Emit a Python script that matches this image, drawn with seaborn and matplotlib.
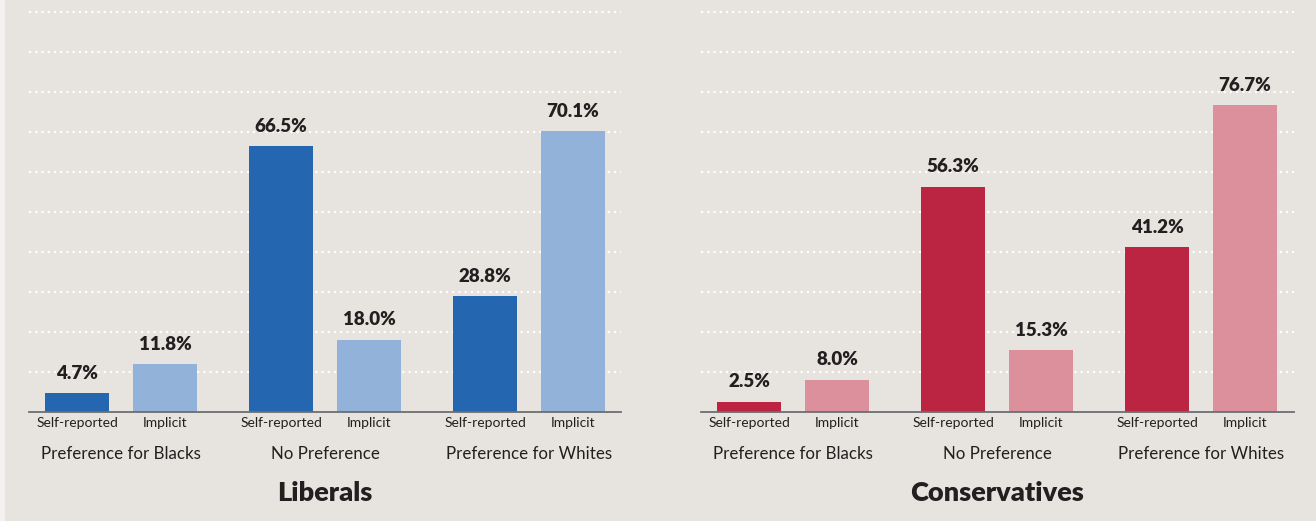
import matplotlib
matplotlib.use("Agg")
import matplotlib.pyplot as plt
from matplotlib.patches import Rectangle
import seaborn as sns
import pandas as pd

# ---- data ----
preferences = ["Preference for Blacks", "No Preference", "Preference for Whites"]
measures = ["Self-reported", "Implicit"]
liberal_self = [4.7, 66.5, 28.8]
liberal_implicit = [11.8, 18.0, 70.1]
conservative_self = [2.5, 56.3, 41.2]
conservative_implicit = [8.0, 15.3, 76.7]
panels = ["Liberals", "Conservatives"]
gridline_values = [10, 20, 30, 40, 50, 60, 70, 80, 90, 100]

rows = []
for panel, s_vals, i_vals in [("Liberals", liberal_self, liberal_implicit),
                              ("Conservatives", conservative_self, conservative_implicit)]:
    for p, s, i in zip(preferences, s_vals, i_vals):
        rows.append({"panel": panel, "preference": p, "measure": "Self-reported", "value": s})
        rows.append({"panel": panel, "preference": p, "measure": "Implicit", "value": i})
df = pd.DataFrame(rows)

palettes = {
    "Liberals": {"Self-reported": "#2566b0", "Implicit": "#93b2d9"},
    "Conservatives": {"Self-reported": "#bb2542", "Implicit": "#dc909c"},
}

BG = "#e7e3de"
TXT = "#231f20"

sns.set_theme(style="white")
plt.rcParams["font.family"] = ["Lato", "DejaVu Sans"]

W, H = 1316, 521
fig = plt.figure(figsize=(W / 100, H / 100), dpi=100, facecolor=BG)
fig.patches.append(Rectangle((0, 0), 5 / W, 1, transform=fig.transFigure,
                             facecolor="#f3f1ef", edgecolor="none", zorder=0))

base_px = 411.5
ax_h = base_px / H
ax_b = (H - base_px) / H
axes_px = [(29, 592), (701, 593)]

for panel, (x0, w) in zip(panels, axes_px):
    ax = fig.add_axes([x0 / W, ax_b, w / W, ax_h])
    ax.set_facecolor(BG)
    sub = df[df["panel"] == panel]
    sns.barplot(data=sub, x="preference", y="value", hue="measure",
                order=preferences, hue_order=measures, palette=palettes[panel],
                width=0.863, gap=0.27, saturation=1, legend=False, errorbar=None,
                linewidth=0, edgecolor="none", ax=ax, zorder=3)
    ax.set_ylim(0, 103)
    ax.set_xlim(-0.451, 2.451 + (w - 592) / 204)
    for gv in gridline_values:
        ax.axhline(gv, color="white", lw=1.6, linestyle=(0, (1, 1.8)), zorder=1)
    for c in ax.containers:
        ax.bar_label(c, fmt="%.1f%%", padding=8, fontsize=13.5, fontweight="heavy",
                     color=TXT, zorder=4)
    # tick labels under each bar
    centers, labels = [], []
    for m, c in zip(measures, ax.containers):
        for bar in c:
            centers.append(bar.get_x() + bar.get_width() / 2)
            labels.append(m)
    ax.set_xticks(centers, labels)
    ax.tick_params(axis="x", length=0, pad=4, labelsize=10, labelcolor=TXT)
    ax.set_yticks([])
    ax.set_xlabel("")
    ax.set_ylabel("")
    for s in ["top", "right", "left"]:
        ax.spines[s].set_visible(False)
    ax.spines["bottom"].set_color("#6d6e70")
    ax.spines["bottom"].set_linewidth(1.3)
    ax.spines["bottom"].set_zorder(5)
    for i, p in enumerate(preferences):
        ax.annotate(p, xy=(i, 0), xycoords=("data", "axes fraction"),
                    xytext=(0, -42.5 * 0.72), textcoords="offset points",
                    ha="center", va="center", fontsize=12.2, color=TXT)
    ax.annotate(panel, xy=(0.5, 0), xycoords="axes fraction",
                xytext=(0, -81.5 * 0.72), textcoords="offset points",
                ha="center", va="center", fontsize=19.5, fontweight="heavy", color=TXT)

fig.savefig("out.png", dpi=100, facecolor=BG)
